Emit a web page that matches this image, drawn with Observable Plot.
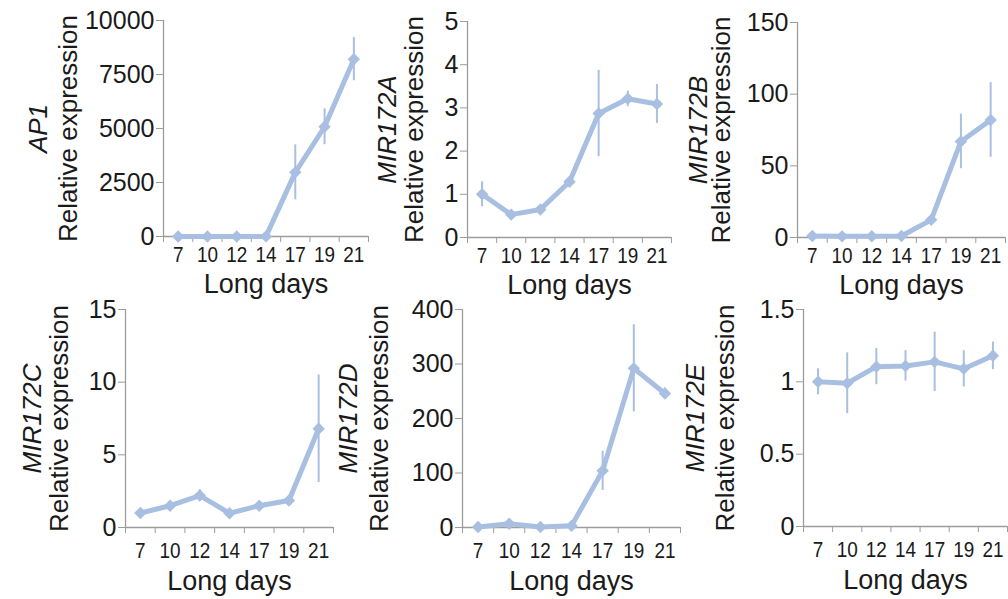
<!DOCTYPE html>
<html><head><meta charset="utf-8">
<script src="https://cdn.jsdelivr.net/npm/d3@7"></script>
<script src="https://cdn.jsdelivr.net/npm/@observablehq/plot@0.6"></script>
<style>
body{margin:0;background:#fff;}
#wrap{position:relative;width:1008px;height:599px;overflow:hidden;background:#fff;}
#wrap svg{position:absolute;}
</style></head><body><div id="wrap"></div>
<script>
// Long days (x categories)
const days = ["7", "10", "12", "14", "17", "19", "21"];

// Series: mean relative expression and error (±)
const ap1Mean = [1, 1, 2, 5, 2970, 5080, 8210];
const ap1Err = [0, 0, 0, 0, 1270, 830, 1000];

const mir172aMean = [1.0, 0.53, 0.65, 1.29, 2.87, 3.21, 3.09];
const mir172aErr = [0.29, 0.05, 0.05, 0.06, 1.0, 0.18, 0.45];

const mir172bMean = [1, 0.8, 0.9, 1.0, 12.3, 67, 82];
const mir172bErr = [0.2, 0.1, 0.1, 0.2, 2, 19, 26];

const mir172cMean = [1.0, 1.5, 2.2, 0.98, 1.5, 1.86, 6.79];
const mir172cErr = [0.1, 0.15, 0.4, 0.1, 0.15, 0.1, 3.7];

const mir172dMean = [1, 7, 1, 3, 104, 292, 246];
const mir172dErr = [0.2, 3, 0.5, 1, 36, 80, 10];

const mir172eMean = [1.0, 0.99, 1.105, 1.11, 1.138, 1.09, 1.18];
const mir172eErr = [0.09, 0.21, 0.125, 0.105, 0.205, 0.125, 0.095];

// Y tick labels per panel
const ap1Ticks = [0, 2500, 5000, 7500, 10000];
const mir172aTicks = [0, 1, 2, 3, 4, 5];
const mir172bTicks = [0, 50, 100, 150];
const mir172cTicks = [0, 5, 10, 15];
const mir172dTicks = [0, 100, 200, 300, 400];
const mir172eTicks = [0, 0.5, 1, 1.5];

const genes = ["AP1", "MIR172A", "MIR172B", "MIR172C", "MIR172D", "MIR172E"];
const yLabel = "Relative expression";
const xLabel = "Long days";

const COLOR = "#a8bfe2";
const AXIS = "#9c9c9c";
const TEXT = "#1a1a1a";
const FONT = "'Liberation Sans', Arial, sans-serif";

const panels = [
  {gene: genes[0], mean: ap1Mean, err: ap1Err, ticks: ap1Ticks, left: 0, top: 0, width: 372, height: 299, ml: 163, mr: 4, mt: 20, mb: 63, offGene: -125, offLab: -95, tickPad: 10, xlab: 48},
  {gene: genes[1], mean: mir172aMean, err: mir172aErr, ticks: mir172aTicks, left: 372, top: 0, width: 302, height: 299, ml: 95, mr: 3, mt: 21, mb: 62, offGene: -80, offLab: -53, tickPad: 10, xlab: 48},
  {gene: genes[2], mean: mir172bMean, err: mir172bErr, ticks: mir172bTicks, left: 674, top: 0, width: 334, height: 299, ml: 123, mr: 3, mt: 22, mb: 62, offGene: -99, offLab: -76, tickPad: 10, xlab: 48},
  {gene: genes[3], mean: mir172cMean, err: mir172cErr, ticks: mir172cTicks, left: 0, top: 299, width: 336, height: 300, ml: 125, mr: 3, mt: 10, mb: 72, offGene: -93, offLab: -66, tickPad: 15, xlab: 54},
  {gene: genes[4], mean: mir172dMean, err: mir172dErr, ticks: mir172dTicks, left: 336, top: 299, width: 346, height: 300, ml: 126, mr: 2, mt: 10, mb: 72, offGene: -114, offLab: -83, tickPad: 15, xlab: 54},
  {gene: genes[5], mean: mir172eMean, err: mir172eErr, ticks: mir172eTicks, left: 682, top: 299, width: 326, height: 300, ml: 121, mr: 1, mt: 10, mb: 73, offGene: -108, offLab: -78, tickPad: 15, xlab: 54}
];

const wrap = document.getElementById("wrap");
const idx = days.map((d, i) => i);
const bounds = days.map((d, i) => i - 0.5).concat([days.length - 0.5]);

for (const p of panels) {
  const data = days.map((d, i) => ({i, day: d, mean: p.mean[i], err: p.err[i]}));
  const ymax = p.ticks[p.ticks.length - 1];
  const chart = Plot.plot({
    width: p.width,
    height: p.height,
    marginLeft: p.ml,
    marginRight: p.mr,
    marginTop: p.mt,
    marginBottom: p.mb,
    style: {fontFamily: FONT, color: TEXT, background: "transparent", overflow: "visible"},
    x: {type: "linear", domain: [-0.5, days.length - 0.5], axis: null},
    y: {type: "linear", domain: [0, ymax], axis: null},
    marks: [
      Plot.ruleX([-0.5], {stroke: AXIS, strokeWidth: 1.3}),
      Plot.ruleY([0], {stroke: AXIS, strokeWidth: 1.3}),
      Plot.axisY({ticks: p.ticks, tickSize: 7, tickPadding: 2, tickFormat: d => String(d), label: null, fontSize: 25, stroke: AXIS, fill: TEXT}),
      Plot.axisX({ticks: bounds, tickSize: 6, tickFormat: () => "", label: null, stroke: AXIS}),
      Plot.axisX({ticks: idx, tickSize: 0, tickPadding: p.tickPad, tickFormat: i => days[i], label: null, fontSize: 22, fill: TEXT}),
      Plot.ruleX(data, {x: "i", y1: d => d.mean - d.err, y2: d => d.mean + d.err, stroke: COLOR, strokeWidth: 2}),
      Plot.line(data, {x: "i", y: "mean", stroke: COLOR, strokeWidth: 5, strokeLinejoin: "round"}),
      Plot.dot(data, {x: "i", y: "mean", symbol: "diamond2", r: 5.6, fill: COLOR, stroke: null}),
      Plot.text([p.gene], {text: d => d, frameAnchor: "left", rotate: -90, dx: p.offGene, fontSize: 26, fontStyle: "italic", textAnchor: "middle", lineAnchor: "middle", fill: TEXT}),
      Plot.text([yLabel], {text: d => d, frameAnchor: "left", rotate: -90, dx: p.offLab, fontSize: 26, textAnchor: "middle", lineAnchor: "middle", fill: TEXT}),
      Plot.text([xLabel], {text: d => d, frameAnchor: "bottom", dy: p.xlab, fontSize: 27, textAnchor: "middle", lineAnchor: "middle", fill: TEXT})
    ]
  });
  // condense the x tick labels horizontally, as in the reference
  chart.querySelectorAll('g[aria-label="x-axis tick label"] text').forEach(t => {
    const tr = t.getAttribute("transform") || "";
    t.setAttribute("transform", tr + " scale(0.86,1)");
  });
  chart.style.position = "absolute";
  chart.style.left = p.left + "px";
  chart.style.top = p.top + "px";
  chart.style.maxWidth = "none";
  wrap.appendChild(chart);
}
</script>
</body></html>
